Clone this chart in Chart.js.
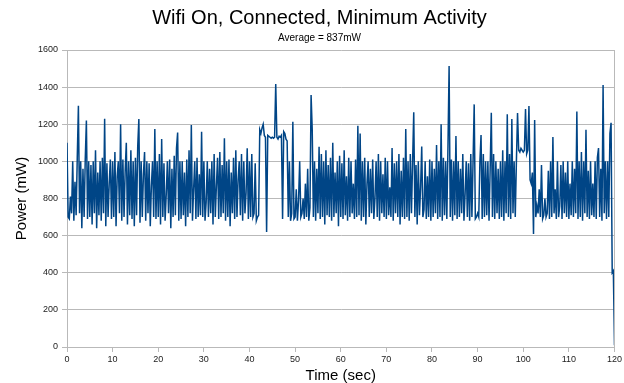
<!DOCTYPE html>
<html>
<head>
<meta charset="utf-8">
<script src="https://cdn.jsdelivr.net/npm/chart.js@4.4.0/dist/chart.umd.min.js"></script>
<style>
  html, body { margin: 0; padding: 0; background: #fff; }
  #wrap { width: 624px; height: 383px; }
</style>
</head>
<body>
<div id="wrap"><canvas id="powerChart" width="624" height="383"></canvas></div>
<script>
'use strict';

// sample spacing in seconds
var sampleStep = 0.25;

// power readings (mW), one every 0.25 s
var power = [
  1100, 700, 690, 810, 720, 1000, 680, 890, 710, 1020, 1300, 720, 1000, 640, 960, 700, 1010, 1220, 690, 1000,
  700, 980, 660, 1000, 720, 1060, 640, 940, 710, 1000, 680, 1020, 720, 1230, 650, 990, 700, 880, 1010, 690,
  1000, 700, 1050, 650, 920, 1000, 720, 1200, 680, 1010, 700, 950, 1100, 660, 1000, 710, 1060, 690, 1000, 650,
  1020, 710, 1080, 1228, 670, 1000, 700, 930, 1050, 680, 1000, 720, 990, 650, 870, 1000, 700, 1175, 690, 1000,
  700, 1040, 660, 1120, 700, 990, 680, 820, 1000, 720, 1010, 640, 960, 700, 1030, 710, 1070, 1155, 680, 1000,
  690, 1000, 710, 940, 650, 1010, 700, 1060, 720, 1196, 680, 850, 1000, 690, 1020, 700, 930, 710, 1160, 700,
  1000, 680, 780, 1000, 700, 960, 720, 1000, 660, 1040, 700, 870, 1020, 690, 1050, 700, 980, 720, 1125, 680,
  1000, 700, 1010, 650, 940, 720, 1020, 690, 1060, 700, 900, 1000, 710, 1040, 680, 1000, 720, 830, 1070, 690,
  1000, 700, 1040, 700, 720, 990, 680, 700, 710, 1170, 1150, 1180, 1200, 1140, 1130, 620, 1140, 1135, 1130, 1125,
  1130, 1125, 1130, 1417, 1130, 1120, 1135, 1130, 1140, 690, 1160, 1150, 1120, 1110, 700, 1000, 680, 720, 1214, 690,
  700, 850, 680, 790, 1000, 700, 720, 800, 690, 880, 700, 960, 680, 750, 1358, 1170, 700, 1000, 680, 960,
  720, 1079, 690, 1040, 700, 1000, 660, 1060, 710, 980, 700, 1020, 680, 1100, 700, 940, 720, 1000, 650, 1030,
  700, 990, 690, 1060, 710, 920, 680, 1020, 700, 1000, 720, 880, 690, 1010, 700, 1192, 710, 1150, 680, 1000,
  700, 1020, 660, 880, 1000, 700, 960, 720, 1010, 690, 800, 1000, 700, 1040, 680, 1000, 720, 930, 700, 1020,
  690, 1000, 710, 860, 700, 1072, 680, 990, 720, 1000, 700, 1040, 660, 950, 700, 1020, 690, 1174, 700, 1000,
  680, 1040, 720, 1000, 1264, 700, 980, 660, 1000, 710, 860, 1080, 700, 740, 1000, 690, 920, 700, 1010, 680,
  1000, 700, 960, 720, 1088, 690, 1000, 700, 1200, 680, 1020, 710, 1000, 690, 1080, 1514, 700, 1010, 680, 1000,
  710, 1137, 690, 1000, 700, 960, 720, 1040, 680, 820, 1000, 700, 990, 680, 1040, 700, 1000, 1307, 690, 700,
  720, 700, 1000, 1142, 690, 1040, 700, 1000, 710, 1000, 680, 960, 1262, 700, 1040, 690, 1000, 720, 960, 690,
  1000, 700, 1060, 680, 1000, 720, 1254, 700, 1040, 690, 1228, 720, 1000, 700, 1000, 1260, 1060, 1050, 1070, 1060,
  1050, 1060, 1282, 1040, 1060, 1298, 900, 880, 940, 609, 1223, 700, 760, 720, 850, 700, 980, 690, 710, 800,
  700, 720, 950, 690, 1000, 700, 1131, 720, 850, 690, 1000, 700, 760, 980, 690, 1000, 720, 940, 700, 1000,
  690, 880, 710, 1000, 700, 960, 720, 1268, 690, 1000, 700, 1050, 680, 1000, 720, 1170, 700, 950, 690, 1000,
  710, 880, 700, 1000, 690, 1020, 1072, 700, 960, 680, 1412, 720, 1000, 690, 1000, 700, 1150, 1208, 400, 410,
  10
];

var xMax = 120;
var xStep = 10;
var yMax = 1600;
var yStep = 200;

var gridColor = '#b9b9b9';
var lineColor = '#004586';

var points = power.map(function (v, i) {
  return { x: i * sampleStep, y: v };
});

// right edge of the plot frame
var frameRight = {
  id: 'frameRight',
  afterDraw: function (chart) {
    var ctx = chart.ctx;
    var a = chart.chartArea;
    ctx.save();
    ctx.strokeStyle = gridColor;
    ctx.lineWidth = 1;
    ctx.beginPath();
    ctx.moveTo(Math.round(a.right) + 0.5, a.top);
    ctx.lineTo(Math.round(a.right) + 0.5, a.bottom);
    ctx.stroke();
    ctx.restore();
  }
};

Chart.defaults.font.family = '"Liberation Sans", Arial, sans-serif';

var ctx = document.getElementById('powerChart');
var powerChart = new Chart(ctx, {
  type: 'line',
  data: {
    datasets: [{
      label: 'Power',
      data: points,
      borderColor: lineColor,
      borderWidth: 1.5,
      pointRadius: 0,
      tension: 0,
      fill: false
    }]
  },
  plugins: [frameRight],
  options: {
    responsive: false,
    animation: false,
    layout: {
      padding: { left: 24, right: 9, top: 0, bottom: 0 }
    },
    plugins: {
      legend: { display: false },
      tooltip: { enabled: false },
      title: {
        display: true,
        text: 'Wifi On, Connected, Minimum Activity',
        color: '#000',
        font: { size: 20, weight: 'normal' },
        padding: { top: 6, bottom: 0 }
      },
      subtitle: {
        display: true,
        text: 'Average = 837mW',
        color: '#000',
        font: { size: 10 },
        padding: { top: 2, bottom: 6 }
      }
    },
    scales: {
      x: {
        type: 'linear',
        min: 0,
        max: xMax,
        ticks: {
          stepSize: xStep,
          color: '#222',
          font: { size: 9 },
          padding: 2,
          maxRotation: 0,
          callback: function (v) { return String(v); }
        },
        grid: {
          drawOnChartArea: false,
          drawTicks: true,
          tickLength: 5,
          color: gridColor
        },
        border: { display: true, color: gridColor },
        title: {
          display: true,
          text: 'Time (sec)',
          color: '#000',
          font: { size: 15, lineHeight: 1 },
          padding: 0
        },
        afterFit: function (scale) { scale.height = 36; }
      },
      y: {
        min: 0,
        max: yMax,
        ticks: {
          stepSize: yStep,
          color: '#222',
          font: { size: 9 },
          padding: 4,
          callback: function (v) { return String(v); }
        },
        grid: {
          color: gridColor,
          tickLength: 5
        },
        border: { display: true, color: gridColor },
        title: {
          display: true,
          text: 'Power (mW)',
          color: '#000',
          font: { size: 15, lineHeight: 1 },
          padding: { top: -9.5, bottom: 0 }
        },
        afterFit: function (scale) { scale.width = 43; }
      }
    }
  }
});
</script>
</body>
</html>
